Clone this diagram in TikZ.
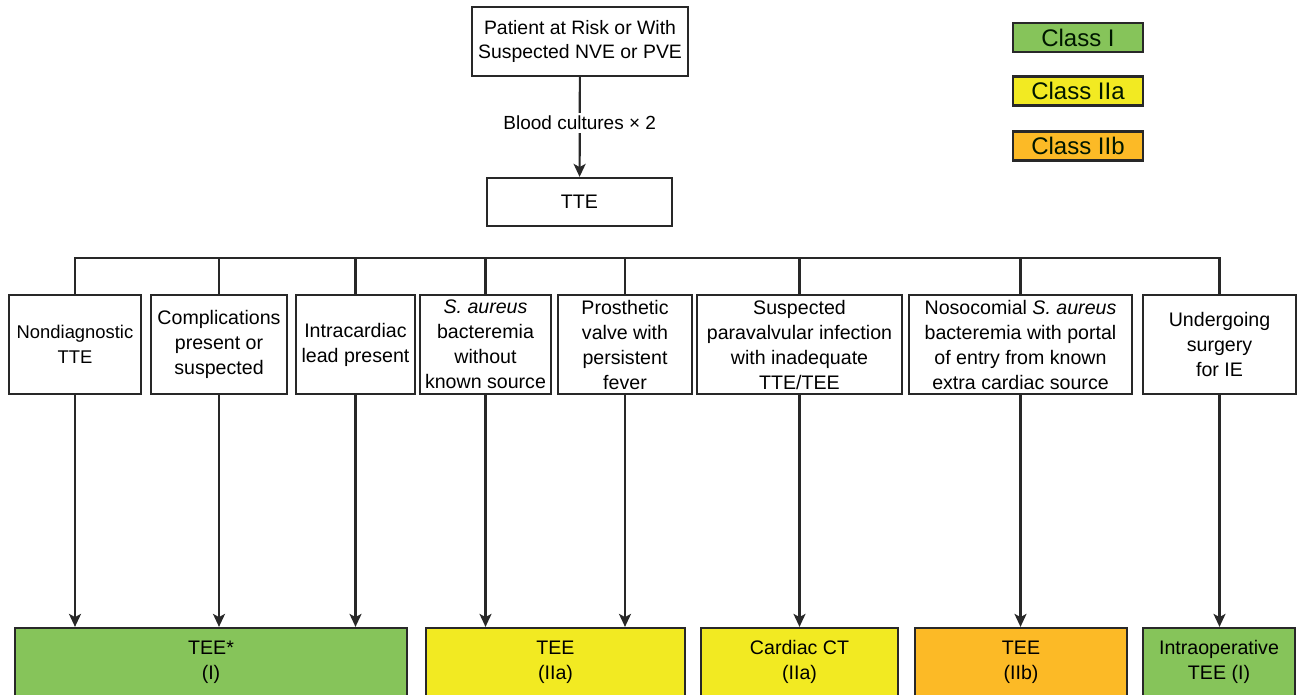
\documentclass[tikz,border=0pt]{standalone}
\usepackage{fontspec}
\setmainfont{Liberation Sans}
\usetikzlibrary{arrows.meta}
\definecolor{gclass}{RGB}{134,196,90}
\definecolor{yclass}{RGB}{242,234,34}
\definecolor{oclass}{RGB}{252,186,38}
\definecolor{edge}{RGB}{40,40,40}
\tikzset{
  box/.style={draw=edge, line width=1.1pt, fill=white, align=center, inner sep=1pt,
    font=\fontsize{9.8}{12.5}\selectfont, text=black},
  resbox/.style={box, minimum height=34pt},
  legbox/.style={draw=edge, line width=1.1pt, minimum width=65pt, minimum height=14.5pt,
    inner sep=0pt, font=\fontsize{12}{14}\selectfont, text=black!85!green!60!black},
  link/.style={draw=edge, line width=1.1pt},
  arr/.style={link, -{Stealth[length=6.5pt,width=6pt,inset=1.6pt]}}
}
\begin{document}
\begin{tikzpicture}[x=0.5pt,y=-0.5pt]
\useasboundingbox (0,0) rectangle (1301,695);
\clip (0,0) rectangle (1301,695);
\fill[white] (0,0) rectangle (1301,695);

% top
\node[box, minimum width=108pt, minimum height=34.5pt, font=\fontsize{9.7}{12}\selectfont] (top) at (580,41.5)
  {Patient at Risk or With\\Suspected NVE or PVE};
\node[box, minimum width=92.5pt, minimum height=24pt] (tte) at (579.5,202) {TTE};
\draw[arr] (top) -- node[pos=0.46, fill=white, inner sep=1.5pt, font=\fontsize{9.5}{12}\selectfont] {Blood cultures × 2} (tte);

% legend
\node[legbox, fill=gclass] (l1) at (1078,37.5) {Class I};
\node[legbox, fill=yclass] (l2) at (1078,91) {Class IIa};
\node[legbox, fill=oclass] (l3) at (1078,146) {Class IIb};

% middle row
\tikzset{mid/.style={box, minimum height=49.5pt}}
\node[mid, minimum width=66pt, font=\fontsize{9.2}{12.5}\selectfont] (b1) at (75,344.5) {Nondiagnostic\\TTE};
\node[mid, minimum width=68pt] (b2) at (219,344.5) {Complications\\present or\\suspected};
\node[mid, minimum width=59.5pt] (b3) at (355.5,344.5) {Intracardiac\\lead present};
\node[mid, minimum width=65.5pt] (b4) at (485.5,344.5) {\textit{S. aureus}\\bacteremia\\without\\known source};
\node[mid, minimum width=67pt] (b5) at (625,344.5) {Prosthetic\\valve with\\persistent\\fever};
\node[mid, minimum width=102.5pt] (b6) at (799.5,344.5) {Suspected\\paravalvular infection\\with inadequate\\TTE/TEE};
\node[mid, minimum width=111.5pt] (b7) at (1020.5,344.5) {Nosocomial \textit{S. aureus}\\bacteremia with portal\\of entry from known\\extra cardiac source};
\node[mid, minimum width=76.5pt] (b8) at (1219.5,344.5) {Undergoing\\surgery\\for IE};

% bus
\coordinate (bus) at (0,258);
\draw[link] (b1.north) -- (b1.north |- bus) -- (b8.north |- bus) -- (b8.north);
\foreach \n in {b2,b3,b4,b5,b6,b7} \draw[link] (\n.north) -- (\n.north |- bus);

% results
\node[resbox, fill=gclass, minimum width=196pt] (r1) at (211,662) {TEE*\\(I)};
\node[resbox, fill=yclass, minimum width=129.5pt] (r2) at (555.5,662) {TEE\\(IIa)};
\node[resbox, fill=yclass, minimum width=98.5pt] (r3) at (799.5,662) {Cardiac CT\\(IIa)};
\node[resbox, fill=oclass, minimum width=106pt] (r4) at (1021,662) {TEE\\(IIb)};
\node[resbox, fill=gclass, minimum width=76pt] (r5) at (1219,662) {Intraoperative\\TEE (I)};

% arrows
\draw[arr] (b1.south) -- (b1.south |- r1.north);
\draw[arr] (b2.south) -- (b2.south |- r1.north);
\draw[arr] (b3.south) -- (b3.south |- r1.north);
\draw[arr] (b4.south) -- (b4.south |- r2.north);
\draw[arr] (b5.south) -- (b5.south |- r2.north);
\draw[arr] (b6.south) -- (b6.south |- r3.north);
\draw[arr] (b7.south) -- (b7.south |- r4.north);
\draw[arr] (b8.south) -- (b8.south |- r5.north);
\end{tikzpicture}
\end{document}
